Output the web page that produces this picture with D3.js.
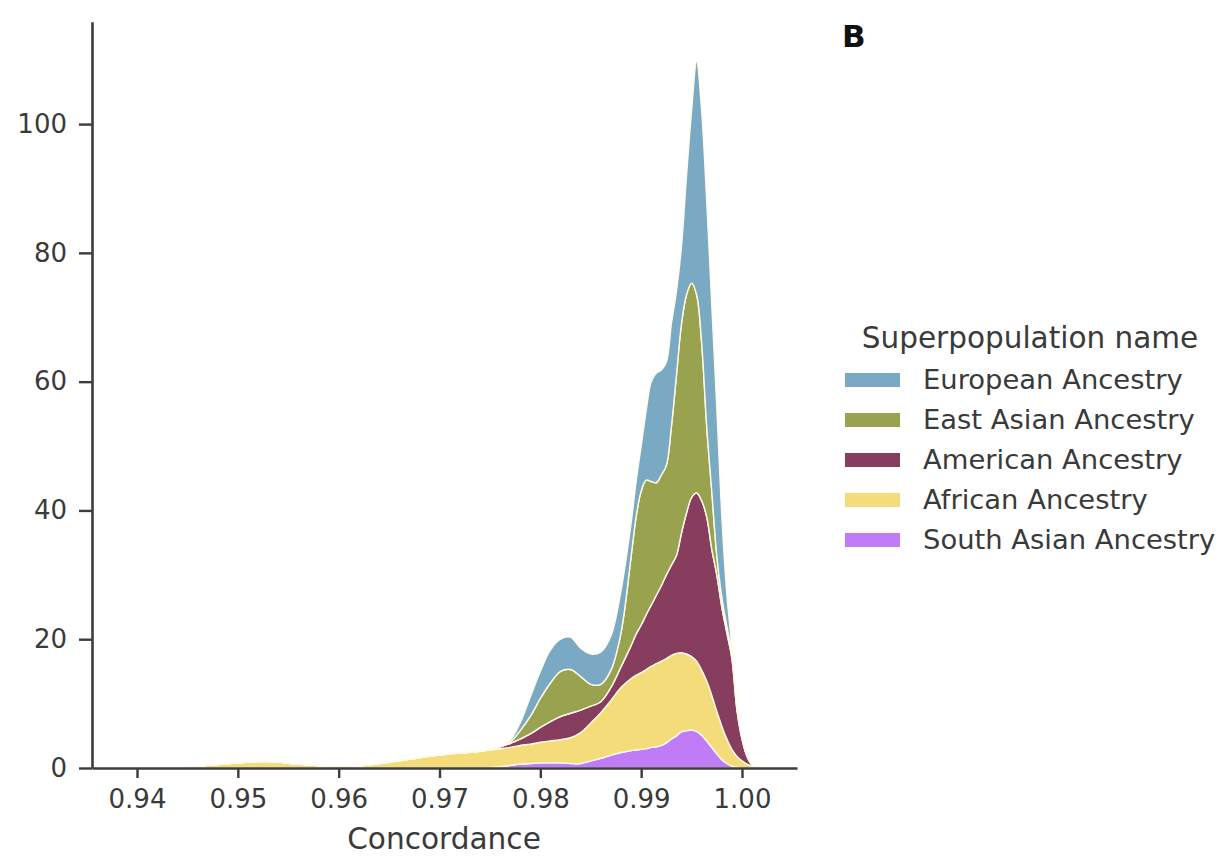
<!DOCTYPE html>
<html lang="en">
<head>
  <meta charset="utf-8">
  <title>Concordance KDE</title>
  <script src="https://cdn.jsdelivr.net/npm/d3@7"></script>
  <style>
    body { margin: 0; background: #fff; }
    text { font-family: "DejaVu Sans", sans-serif; }
  </style>
</head>
<body>
  <script>
    // concordance grid (x) and stacked density per superpopulation
    const concordance = [0.936, 0.944, 0.947, 0.950, 0.953, 0.956, 0.959, 0.962, 0.965, 0.968,
      0.971, 0.974, 0.976, 0.977, 0.978, 0.979, 0.980, 0.981, 0.982, 0.983,
      0.984, 0.985, 0.986, 0.987, 0.988, 0.989, 0.9895, 0.990, 0.9905, 0.991,
      0.9915, 0.992, 0.9925, 0.993, 0.9935, 0.994, 0.9945, 0.995, 0.9955, 0.996,
      0.9965, 0.997, 0.9975, 0.998, 0.9985, 0.999, 0.9995, 1.000, 1.0005, 1.001, 1.002];
    const southAsian = [0, 0, 0, 0, 0, 0, 0, 0, 0, 0,
      0, 0, 0.2, 0.4, 0.6, 0.7, 0.8, 0.8, 0.8, 0.7,
      0.7, 1.1, 1.5, 2.0, 2.4, 2.7, 2.8, 2.9, 3.0, 3.2,
      3.3, 3.5, 3.9, 4.5, 5.0, 5.6, 5.8, 5.9, 5.7, 5.1,
      4.2, 3.2, 2.2, 1.3, 0.7, 0.3, 0.1, 0, 0, 0, 0];
    const african = [0, 0, 0.4, 0.8, 1.0, 0.6, 0.3, 0.3, 0.9, 1.6,
      2.2, 2.6, 2.8, 2.8, 2.9, 3.0, 3.2, 3.4, 3.6, 4.0,
      4.8, 5.9, 7.1, 8.5, 10.1, 11.2, 11.6, 11.9, 12.3, 12.6,
      12.9, 13.1, 13.1, 13.0, 12.8, 12.3, 11.9, 11.4, 10.9, 10.1,
      9.3, 8.1, 6.6, 5.2, 3.8, 2.6, 1.7, 1.1, 0.6, 0.3, 0];
    const american = [0, 0, 0, 0, 0, 0, 0, 0, 0, 0,
      0, 0, 0.3, 0.6, 1.0, 1.6, 2.3, 3.0, 3.6, 3.8,
      3.5, 2.6, 1.7, 2.0, 3.2, 5.1, 6.4, 7.4, 8.5, 9.5,
      10.6, 11.7, 13.0, 14.0, 15.2, 18.6, 21.9, 24.7, 26.1, 26.3,
      25.5, 22.7, 21.2, 18.5, 16.5, 14.1, 7.2, 3.4, 1.2, 0.2, 0];
    const eastAsian = [0, 0, 0, 0, 0, 0, 0, 0, 0, 0,
      0, 0, 0, 0.2, 1.3, 2.7, 4.5, 6.0, 7.0, 6.8,
      5.2, 3.4, 2.7, 2.7, 5.3, 13.8, 18.2, 20.8, 20.9, 19.2,
      17.5, 17.2, 17.0, 21.5, 28.0, 32.5, 33.9, 33.3, 30.8, 24.5,
      14.0, 9.0, 3.0, 1.5, 1.0, 0.8, 0.5, 0.3, 0.1, 0, 0];
    const european = [0, 0, 0, 0, 0, 0, 0, 0, 0, 0,
      0, 0, 0.1, 0.3, 1.2, 3.0, 4.2, 5.1, 5.0, 5.0,
      4.4, 4.7, 5.0, 5.3, 6.5, 5.2, 5.5, 7.0, 10.8, 15.5,
      17.0, 16.3, 16.0, 16.0, 13.0, 12.0, 18.5, 26.7, 36.2, 36.0,
      35.0, 29.0, 23.0, 12.5, 5.0, 0.9, 0.8, 0.2, 0.2, 0.1, 0];

    // stacking order: bottom first
    const stackNames = ["South Asian Ancestry", "African Ancestry", "American Ancestry", "East Asian Ancestry", "European Ancestry"];
    const stackValues = [southAsian, african, american, eastAsian, european];
    const legendNames = ["European Ancestry", "East Asian Ancestry", "American Ancestry", "African Ancestry", "South Asian Ancestry"];
    const colors = {
      "European Ancestry": "#79a9c3",
      "East Asian Ancestry": "#98a24f",
      "American Ancestry": "#873d5d",
      "African Ancestry": "#f4dc7b",
      "South Asian Ancestry": "#c07bf6"
    };
    const xTicks = [0.94, 0.95, 0.96, 0.97, 0.98, 0.99, 1.00];
    const yTicks = [0, 20, 40, 60, 80, 100];

    const W = 1224, H = 857;
    const svg = d3.select("body").append("svg")
      .attr("width", W).attr("height", H);

    const x = d3.scaleLinear().domain([0.935537, 1.005455]).range([92, 797]);
    const y = d3.scaleLinear().domain([0, 115.9]).range([768, 21.7]);

    // build rows for d3.stack
    const rows = concordance.map((c, i) => {
      let r = { c: c };
      stackNames.forEach((n, j) => { r[n] = stackValues[j][i]; });
      return r;
    });
    const series = d3.stack().keys(stackNames)(rows);

    const area = d3.area()
      .x(d => x(d.data.c))
      .y0(d => y(d[0]))
      .y1(d => y(d[1]))
      .curve(d3.curveCatmullRom.alpha(0.5));

    svg.append("g").selectAll("path").data(series).join("path")
      .attr("d", area)
      .attr("fill", d => colors[d.key])
      .attr("stroke", "#fffbea")
      .attr("stroke-width", 1.4)
      .attr("stroke-linejoin", "round");

    const axisColor = "#3c3c3c";
    // x axis
    let xAxisG = svg.append("g")
      .attr("transform", `translate(0, 768)`)
      .call(d3.axisBottom(x).tickValues(xTicks).tickFormat(d3.format(".2f")).tickSize(10).tickPadding(12).tickSizeOuter(0));
    // y axis
    let yAxisG = svg.append("g")
      .attr("transform", `translate(92, 0)`)
      .call(d3.axisLeft(y).tickValues(yTicks).tickSize(13).tickPadding(12).tickSizeOuter(0));

    [xAxisG, yAxisG].forEach(g => {
      g.select(".domain").attr("stroke", axisColor).attr("stroke-width", 2.6);
      g.selectAll(".tick line").attr("stroke", axisColor).attr("stroke-width", 2.4);
      g.selectAll(".tick text").attr("fill", "#3a3a3a")
        .style("font-family", "DejaVu Sans, sans-serif").style("font-size", "26px");
    });

    // x label
    svg.append("text").text("Concordance")
      .attr("x", 444).attr("y", 849)
      .attr("text-anchor", "middle")
      .attr("fill", "#3a3a3a")
      .style("font-size", "29.6px");

    // panel letter
    svg.append("text").text("B")
      .attr("x", 842).attr("y", 47)
      .attr("fill", "#111")
      .style("font-size", "31px")
      .style("font-weight", "bold");

    // legend
    const legend = svg.append("g");
    legend.append("text").text("Superpopulation name")
      .attr("x", 1030).attr("y", 348)
      .attr("text-anchor", "middle")
      .attr("fill", "#3a3a3a")
      .style("font-size", "29.5px");
    legendNames.forEach((n, i) => {
      let cy = 380 + i * 40;
      legend.append("rect")
        .attr("x", 845).attr("y", cy - 7)
        .attr("width", 55).attr("height", 14)
        .attr("fill", colors[n]);
      legend.append("text").text(n)
        .attr("x", 923).attr("y", cy + 9)
        .attr("fill", "#3a3a3a")
        .style("font-size", "27.4px");
    });
  </script>
</body>
</html>
